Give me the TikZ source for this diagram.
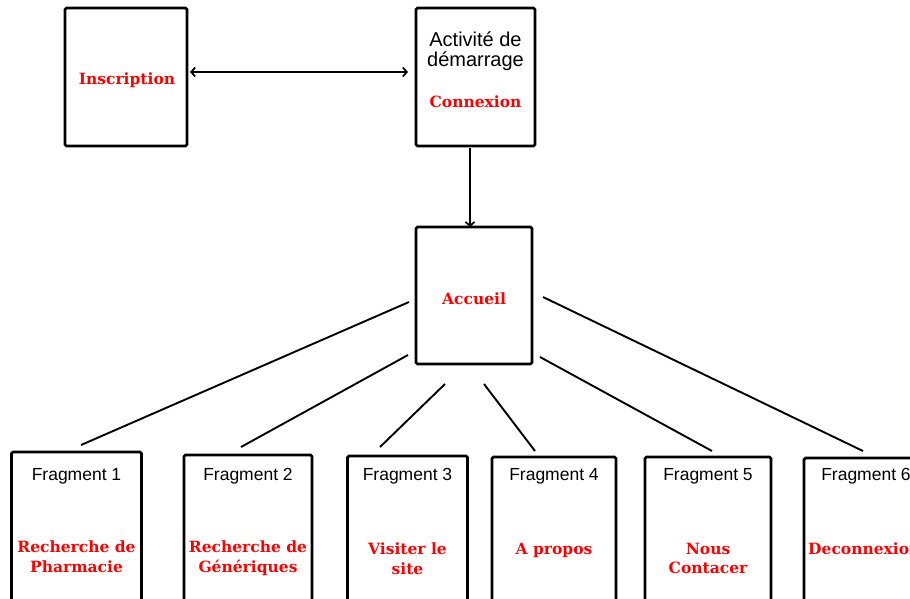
\documentclass[tikz,border=0pt]{standalone}
\usepackage{fontspec}
\setmainfont{Liberation Sans}
\newfontfamily\heavy{DejaVu Serif}
\usetikzlibrary{arrows.meta}
\definecolor{lblred}{RGB}{255,0,0}
\begin{document}
\begin{tikzpicture}[x=1pt,y=-1pt,
  box/.style={draw, line width=2.8pt, rounded corners=1.5pt, inner sep=0pt, outer sep=0pt, fill=white, anchor=north},
  link/.style={line width=1.9pt},
  arr/.style={line width=1.7pt, arrows={Straight Barb[length=4pt,width=9pt]-Straight Barb[length=4pt,width=9pt]}},
  darr/.style={line width=1.7pt, arrows={-Straight Barb[length=4pt,width=9pt]}},
  big/.style={font=\fontsize{20}{22}\selectfont, anchor=base, inner sep=0pt},
  frag/.style={font=\fontsize{17.5}{20}\selectfont, anchor=base, inner sep=0pt},
  redlbl/.style={font=\heavy\bfseries\fontsize{15.5}{18}\selectfont, text=lblred, anchor=base, inner sep=0pt}
]
\useasboundingbox (0,0) rectangle (910,598);
\clip (0,0) rectangle (910,598);

% top row
\node[box, minimum width=122pt, minimum height=138pt] (ins) at (126,8) {};
\node[box, minimum width=119pt, minimum height=138pt] (act) at (475.5,8) {};
\node[redlbl] (insT) at (127,84) {Inscription};
\node[big] (actA) at (475.5,46) {Activité de};
\node[big] (actB) at (475.5,66) {démarrage};
\node[redlbl] (actC) at (475.5,107) {Connexion};

% home screen
\node[box, minimum width=116pt, minimum height=137pt] (acc) at (474,227) {};
\node[redlbl] (accT) at (474,304) {Accueil};

% connectors between activities
\draw[arr] ([yshift=5pt,xshift=3pt]ins.east) -- ([yshift=5pt,xshift=-8pt]act.west);
\draw[darr] ([xshift=-5.5pt,yshift=-2pt]act.south) -- ([xshift=-4pt]acc.north);

% fragments
\foreach \i/\cx/\w/\t in {1/76.5/130/452, 2/248/128/455, 3/407.5/120/456, 4/554/124/457, 5/708/126/457, 6/866/124/458}
  \node[box, minimum width=\w pt, minimum height=200pt] (f\i) at (\cx,\t) {};

\foreach \i/\cx in {1/76.5, 2/248, 3/407.5, 4/554, 5/708, 6/866}
  \node[frag] (fl\i) at (\cx,480) {Fragment \i};

\node[redlbl] (r1a) at (76.5,552) {Recherche de};
\node[redlbl] (r1b) at (76.5,572) {Pharmacie};
\node[redlbl] (r2a) at (248,552) {Recherche de};
\node[redlbl] (r2b) at (248,572) {Génériques};
\node[redlbl] (r3a) at (407.5,554) {Visiter le};
\node[redlbl] (r3b) at (407.5,574) {site};
\node[redlbl] (r4a) at (554,554) {A propos};
\node[redlbl] (r5a) at (708,554) {Nous};
\node[redlbl] (r5b) at (708,573) {Contacer};
\node[redlbl, anchor=base west] (r6a) at (808,554) {Deconnexion};

% links from the home screen to each fragment
\coordinate (a1) at (409,302); \coordinate (e1) at (81,445);
\coordinate (a2) at (408,355); \coordinate (e2) at (241,447);
\coordinate (a3) at (445,384); \coordinate (e3) at (380,447);
\coordinate (a4) at (484,384); \coordinate (e4) at (535,451);
\coordinate (a5) at (540,357); \coordinate (e5) at (712,451);
\coordinate (a6) at (543,297); \coordinate (e6) at (863,451);
\foreach \k in {1,...,6}
  \draw[link] (a\k) -- (e\k);
\end{tikzpicture}
\end{document}
